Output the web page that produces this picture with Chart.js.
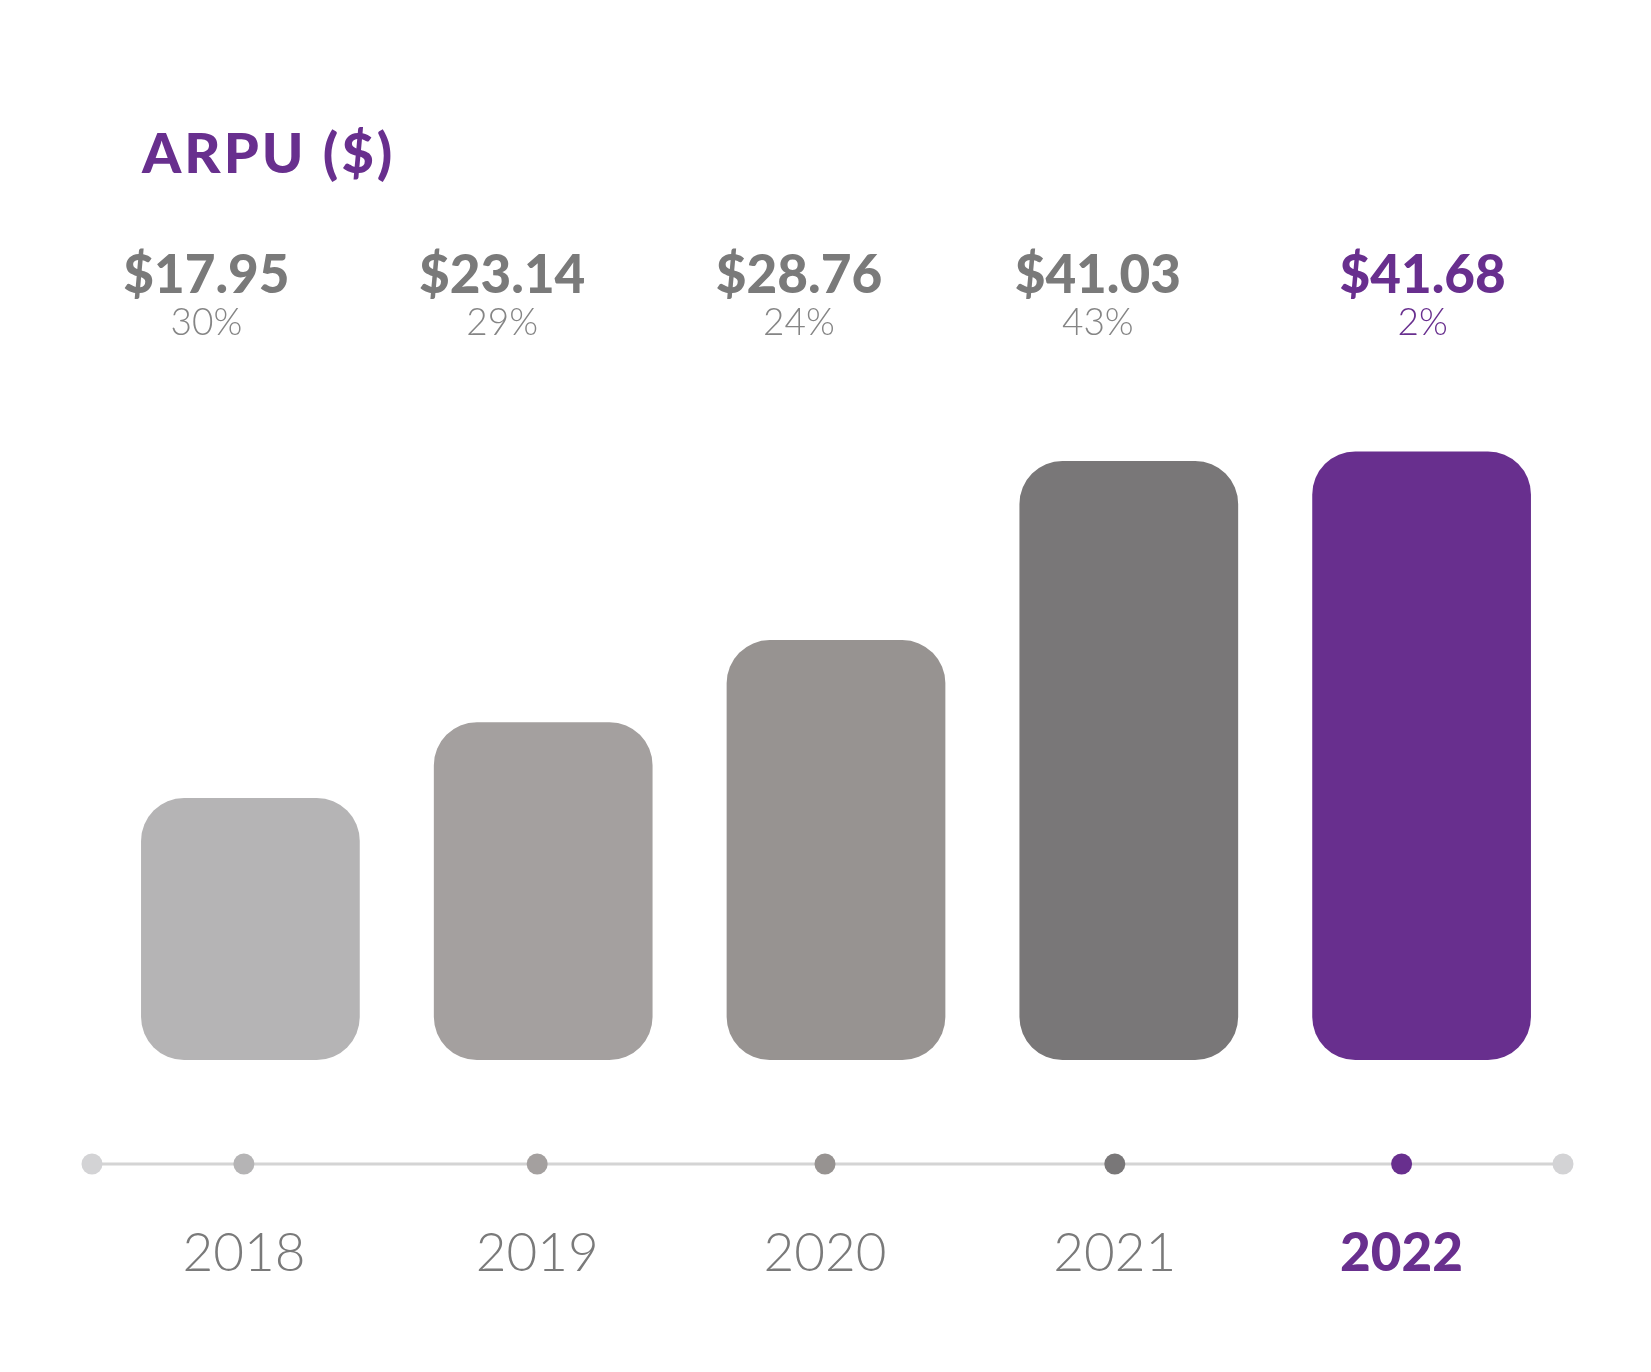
<!DOCTYPE html>
<html>
<head>
<meta charset="utf-8">
<script src="https://cdn.jsdelivr.net/npm/chart.js@4"></script>
<style>
  html, body { margin: 0; padding: 0; background: #ffffff; }
  #wrap { width: 1651px; height: 1372px; }
</style>
</head>
<body>
<div id="wrap"><canvas id="myChart" width="1651" height="1372"></canvas></div>
<script>
let ROKY = ['2018', '2019', '2020', '2021', '2022'];
let ARPU = [17.95, 23.14, 28.76, 41.03, 41.68];
let RUST = ['30%', '29%', '24%', '43%', '2%'];
let CENY = ['$17.95', '$23.14', '$28.76', '$41.03', '$41.68'];

let BARVY = ['#b5b4b5', '#a4a09f', '#979391', '#797778', '#682f8e'];
let FIALOVA = '#682f8e';
let SEDA = '#7a7a7a';

// posuny popisku oproti stredu sloupce (tak jak je to v predloze)
let posunCeny = [-44, -41, -37, -31, 1];
let posunTecky = [-6.5, -6, -11, -14, -20];

let popisky = {
    id: 'popisky',
    afterDatasetsDraw(chart) {
        let c = chart.ctx;
        let x = chart.scales.x;
        let area = chart.chartArea;
        c.save();

        // nadpis
        c.fillStyle = FIALOVA;
        c.font = '900 56px Lato';
        c.letterSpacing = '3px';
        c.textAlign = 'left';
        c.textBaseline = 'alphabetic';
        c.fillText('ARPU ($)', 142, 173);
        c.letterSpacing = '0px';

        // hodnoty a rust
        c.textAlign = 'center';
        for (let i = 0; i < ROKY.length; i++) {
            let px = x.getPixelForValue(i) + posunCeny[i];
            let posledni = i === ROKY.length - 1;
            c.fillStyle = posledni ? FIALOVA : SEDA;
            c.font = '900 53px Lato';
            c.fillText(CENY[i], px, area.top - 37);
            c.fillStyle = posledni ? FIALOVA : '#858585';
            c.font = '300 37px Lato';
            c.fillText(RUST[i], px, area.top + 5);
        }

        // casova osa
        let yOsa = area.bottom + 104;
        c.strokeStyle = '#d4d4d4';
        c.lineWidth = 3;
        c.beginPath();
        c.moveTo(area.left - 12, yOsa);
        c.lineTo(area.right - 5, yOsa);
        c.stroke();

        c.fillStyle = '#d3d3d5';
        [area.left - 12, area.right - 5].forEach(function (kx) {
            c.beginPath();
            c.arc(kx, yOsa, 10.5, 0, Math.PI * 2);
            c.fill();
        });

        for (let i = 0; i < ROKY.length; i++) {
            let px = x.getPixelForValue(i) + posunTecky[i];
            let posledni = i === ROKY.length - 1;
            c.fillStyle = BARVY[i];
            c.beginPath();
            c.arc(px, yOsa, 10.5, 0, Math.PI * 2);
            c.fill();

            c.fillStyle = posledni ? FIALOVA : '#7a7a7a';
            c.font = posledni ? '900 53px Lato' : '300 53px Lato';
            c.fillText(ROKY[i], px, area.bottom + 211);
        }
        c.restore();
    }
};

let ctx = document.getElementById('myChart').getContext('2d');
let myChart = new Chart(ctx, {
    type: 'bar',
    data: {
        labels: ROKY,
        datasets: [{
            label: 'ARPU',
            data: ARPU,
            backgroundColor: BARVY,
            borderRadius: 43,
            borderSkipped: false,
            barPercentage: 0.747,
            categoryPercentage: 1
        }]
    },
    options: {
        responsive: false,
        devicePixelRatio: 1,
        animation: false,
        layout: {
            padding: { left: 104, right: 83, top: 330, bottom: 312 }
        },
        plugins: {
            legend: { display: false },
            tooltip: { enabled: false }
        },
        scales: {
            x: { display: false },
            y: { display: false, min: 0, max: 50 }
        }
    },
    plugins: [popisky]
});
</script>
</body>
</html>
